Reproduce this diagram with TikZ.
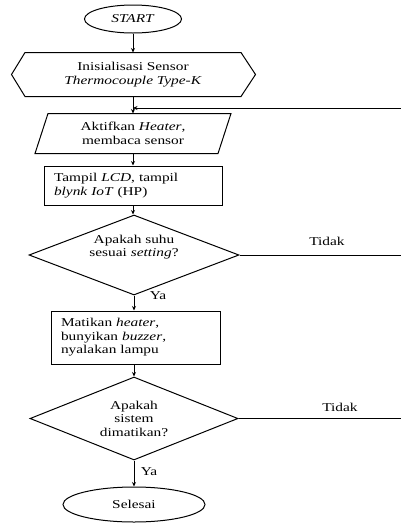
\documentclass[tikz,border=0pt]{standalone}
\usepackage{fontspec}
\setmainfont{Liberation Serif}[FakeStretch=1.28]
\usetikzlibrary{shapes.geometric,arrows.meta,calc}
\begin{document}
\begin{tikzpicture}[x=1pt,y=-1pt,
  font=\fontsize{12}{13.5}\selectfont,
  line width=1pt,
  arr/.style={-{Stealth[length=4.5pt,width=4pt]}},
  term/.style={draw,ellipse,inner sep=0pt},
  plain/.style={inner sep=0pt,align=center},
  procbox/.style={draw,rectangle,inner ysep=0pt,inner xsep=10pt,align=left},
  decis/.style={draw,diamond,inner sep=0pt,align=center},
  lbl/.style={inner sep=1pt}]
\useasboundingbox (0,0) rectangle (401,523);
\node[term,minimum width=97pt,minimum height=28pt] (start) at (133,19) {\textit{START}};
\node[plain,minimum width=215pt,minimum height=43pt] (init) at (133,74.5) {Inisialisasi Sensor\\\textit{Thermocouple Type-K}};
\draw ([xshift=-13.5pt]init.west) -- (init.north west) -- (init.north east) -- ([xshift=14.5pt]init.east) -- (init.south east) -- (init.south west) -- cycle;
\node[plain,minimum width=182pt,minimum height=39pt] (act) at (133,133.5) {Aktifkan \textit{Heater},\\membaca sensor};
\draw ([xshift=6.5pt]act.north west) -- ([xshift=6.5pt]act.north east) -- ([xshift=-6.5pt]act.south east) -- ([xshift=-6.5pt]act.south west) -- cycle;
\node[procbox,text width=158pt,minimum height=39pt] (r1) at (133,185.5) {Tampil \textit{LCD}, tampil\\\textit{blynk IoT} (HP)};
\node[decis,aspect=2.6,minimum width=210pt,minimum height=80pt] (d1) at (134,255) {Apakah suhu\\sesuai \textit{setting}?\\[5pt]};
\node[procbox,text width=149pt,minimum height=53pt] (r2) at (135.5,337.5) {Matikan \textit{heater},\\bunyikan \textit{buzzer},\\nyalakan lampu};
\node[decis,aspect=2.5,minimum width=208pt,minimum height=83pt] (d2) at (134,418.5) {Apakah\\sistem\\dimatikan?};
\node[term,minimum width=142pt,minimum height=35pt] (end) at (134,504.5) {Selesai};
\coordinate (fb) at (133,108);
\coordinate (fbR) at (401,108);
\node[lbl] (t1) at (327,241) {Tidak};
\node[lbl] (t2) at (340,407) {Tidak};
\node[lbl] (y1) at (158,296) {Ya};
\node[lbl] (y2) at (149,472) {Ya};
\draw[arr] (start.south) -- (init.south |- init.north);
\draw[arr] (init.south) -- (act.north);
\draw[arr] (fbR) -- (fb);
\draw[arr] (act.south) -- (r1.north);
\draw[arr] (r1.south -| act.south) -- (d1.north -| act.south);
\draw[arr] (d1.south) -- (d1.south |- r2.north);
\draw[arr] (r2.south -| d2.north) -- (d2.north);
\draw[arr] (d2.south) -- (d2.south |- end.north);
\draw (d1.east) -- (d1.east -| fbR);
\draw (d2.east) -- (d2.east -| fbR);
\end{tikzpicture}
\end{document}
